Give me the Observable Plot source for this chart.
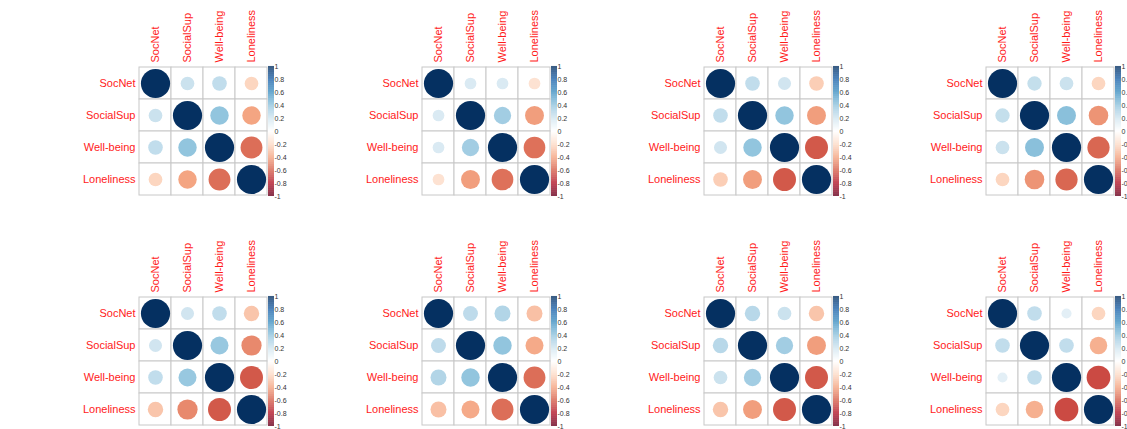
<!DOCTYPE html>
<html><head><meta charset="utf-8">
<script src="https://cdn.jsdelivr.net/npm/d3@7"></script>
<script src="https://cdn.jsdelivr.net/npm/@observablehq/plot@0.6"></script>
<style>
html,body{margin:0;padding:0;background:#fff;}
#chart{position:relative;width:1127px;height:429px;overflow:hidden;font-family:"Liberation Sans",Arial,sans-serif;}
#chart svg{position:absolute;overflow:visible;}
</style></head><body><div id="chart"></div>
<script>
const variables = ["SocNet", "SocialSup", "Well-being", "Loneliness"];
// upper-triangle correlations: [SocNet-SocialSup, SocNet-Well-being, SocNet-Loneliness, SocialSup-Well-being, SocialSup-Loneliness, Well-being-Loneliness]
const panel1 = [0.22, 0.25, -0.22, 0.40, -0.40, -0.56];
const panel2 = [0.16, 0.16, -0.16, 0.35, -0.42, -0.55];
const panel3 = [0.25, 0.20, -0.25, 0.40, -0.42, -0.62];
const panel4 = [0.24, 0.22, -0.22, 0.42, -0.45, -0.58];
const panel5 = [0.20, 0.25, -0.28, 0.38, -0.48, -0.62];
const panel6 = [0.26, 0.30, -0.30, 0.40, -0.38, -0.56];
const panel7 = [0.28, 0.22, -0.28, 0.35, -0.42, -0.62];
const panel8 = [0.25, 0.12, -0.22, 0.25, -0.36, -0.66];
const panels = [panel1, panel2, panel3, panel4, panel5, panel6, panel7, panel8];
const colorbarTicks = [1, 0.8, 0.6, 0.4, 0.2, 0, -0.2, -0.4, -0.6, -0.8, -1];
const rdbuDomain = [-1, -0.8, -0.6, -0.4, -0.2, 0, 0.2, 0.4, 0.6, 0.8, 1];
const rdbuColors = ["#67001F", "#B2182B", "#D6604D", "#F4A582", "#FDDBC7", "#FFFFFF", "#D1E5F0", "#92C5DE", "#4393C3", "#2166AC", "#053061"];

const panelLefts = [0, 283, 565, 847];
const rowTops = [0, 230];
const font = '"Liberation Sans", Arial, sans-serif';
const chart = document.getElementById("chart");

function buildPanel(vals, left, top) {
  const tri = {"0,1": vals[0], "0,2": vals[1], "0,3": vals[2], "1,2": vals[3], "1,3": vals[4], "2,3": vals[5]};
  const data = [];
  variables.forEach((a, i) => variables.forEach((b, j) => {
    const v = i === j ? 1 : tri[Math.min(i, j) + "," + Math.max(i, j)];
    data.push({row: a, col: b, value: v});
  }));
  const color = {type: "linear", domain: rdbuDomain, range: rdbuColors, interpolate: "rgb"};
  const main = Plot.plot({
    width: 300, height: 200,
    marginLeft: 138, marginRight: 32, marginTop: 66, marginBottom: 4,
    style: {fontFamily: font, background: "transparent", overflow: "visible"},
    x: {type: "band", domain: variables, padding: 0, label: null},
    y: {type: "band", domain: variables, padding: 0, label: null},
    color,
    r: {type: "sqrt", domain: [0, 1], range: [0, 14.6]},
    marks: [
      Plot.cell(data, {x: "col", y: "row", fill: "white", stroke: "#c8c8c8", strokeWidth: 1}),
      Plot.dot(data, {x: "col", y: "row", r: d => Math.abs(d.value), fill: "value"}),
      Plot.axisX({anchor: "top", label: null, tickRotate: -90, tickSize: 0, tickPadding: 4, color: "#ff1a1a", fontSize: 11}),
      Plot.axisY({anchor: "left", label: null, tickSize: 0, tickPadding: 3, color: "#ff1a1a", fontSize: 11})
    ]
  });
  main.style.left = left + "px";
  main.style.top = top + "px";
  chart.appendChild(main);

  const steps = d3.range(-1, 1, 0.01);
  const bar = Plot.plot({
    width: 300, height: 200,
    marginLeft: 268, marginRight: 26, marginTop: 66, marginBottom: 4,
    style: {fontFamily: font, background: "transparent", overflow: "visible"},
    x: {domain: [0, 1], axis: null},
    y: {domain: [-1, 1], label: null},
    color,
    marks: [
      Plot.rect(steps, {x1: 0, x2: 1, y1: d => d, y2: d => d + 0.0105, fill: d => d + 0.005}),
      Plot.axisY({anchor: "right", label: null, ticks: colorbarTicks, tickFormat: d => String(+d.toFixed(1)), tickSize: 0, tickPadding: 0, fontSize: 7, color: "#333"})
    ]
  });
  bar.style.left = left + "px";
  bar.style.top = top + "px";
  chart.appendChild(bar);
}

panels.forEach((vals, k) => buildPanel(vals, panelLefts[k % 4], rowTops[Math.floor(k / 4)]));
</script>
</body></html>
